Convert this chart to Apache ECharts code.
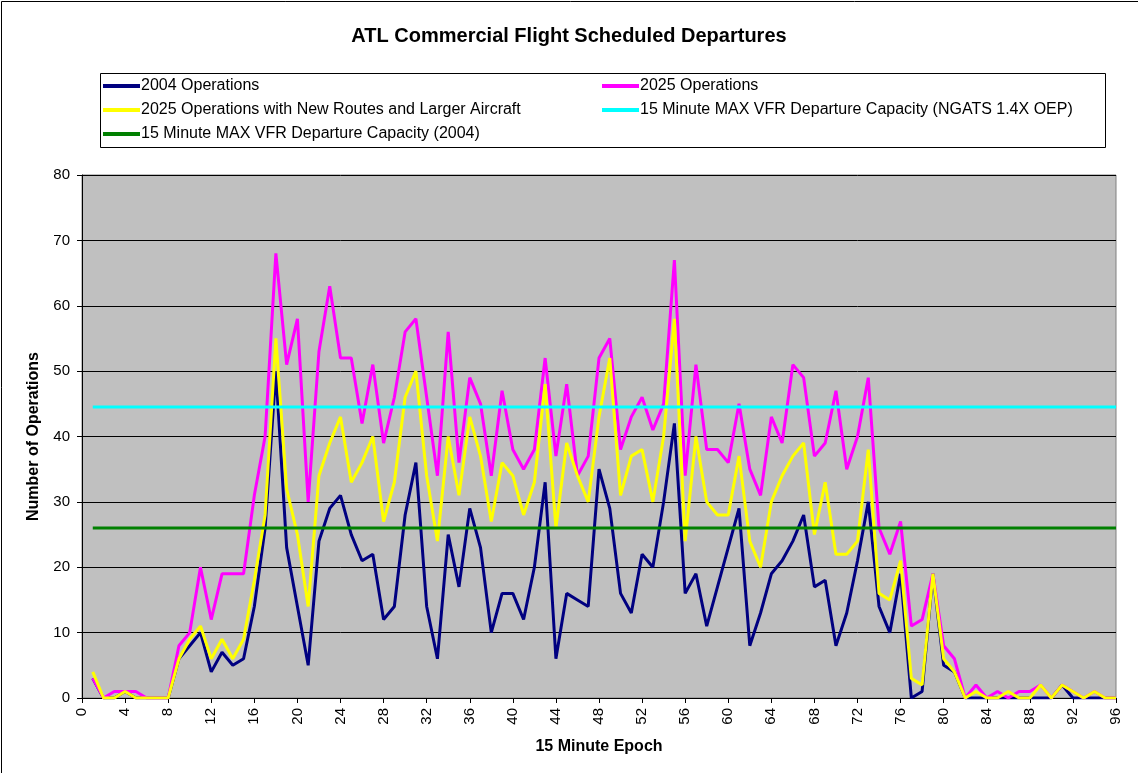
<!DOCTYPE html>
<html>
<head>
<meta charset="utf-8">
<title>ATL Commercial Flight Scheduled Departures</title>
<script src="https://cdn.jsdelivr.net/npm/echarts@6/dist/echarts.min.js"></script>
<style>
  html, body { margin: 0; padding: 0; background: #fff; }
  #chart { width: 1138px; height: 773px; }
</style>
</head>
<body>
<div id="chart"></div>
<script>
// 15 minute epochs 1..96
const epochs = Array.from({ length: 96 }, (_, i) => i + 1);

const ops2004 = [3, 0, 0, 1, 0, 0, 0, 0, 6, 8, 10, 4, 7, 5, 6, 14, 26, 50, 23, 14, 5, 24, 29, 31, 25, 21, 22, 12, 14, 28, 36, 14,
  6, 25, 17, 29, 23, 10, 16, 16, 12, 20, 33, 6, 16, 15, 14, 35, 29, 16, 13, 22, 20, 30, 42, 16, 19, 11, 17, 23, 29, 8,
  13, 19, 21, 24, 28, 17, 18, 8, 13, 21, 30, 14, 10, 19, 0, 1, 19, 5, 4, 0, 0, 0, 0, 0, 0, 0, 0, 0, 2, 0, 0, 0, 0, 0];

const ops2025 = [3, 0, 1, 1, 1, 0, 0, 0, 8, 10, 20, 12, 19, 19, 19, 31, 40, 68, 51, 58, 30, 53, 63, 52, 52, 42, 51, 39, 46, 56, 58, 46,
  34, 56, 36, 49, 45, 34, 47, 38, 35, 38, 52, 37, 48, 34, 37, 52, 55, 38, 43, 46, 41, 45, 67, 34, 51, 38, 38, 36, 45, 35,
  31, 43, 39, 51, 49, 37, 39, 47, 35, 40, 49, 26, 22, 27, 11, 12, 19, 8, 6, 0, 2, 0, 1, 0, 1, 1, 2, 0, 2, 1, 0, 1, 0, 0];

const ops2025New = [4, 0, 0, 1, 0, 0, 0, 0, 6, 9, 11, 6, 9, 6, 9, 18, 28, 55, 32, 25, 14, 34, 39, 43, 33, 36, 40, 27, 33, 46, 50, 34,
  24, 40, 31, 43, 37, 27, 36, 34, 28, 33, 48, 26, 39, 34, 30, 43, 52, 31, 37, 38, 30, 40, 58, 24, 40, 30, 28, 28, 37, 24,
  20, 30, 34, 37, 39, 25, 33, 22, 22, 24, 38, 16, 15, 21, 3, 2, 19, 6, 4, 0, 1, 0, 0, 1, 0, 0, 2, 0, 2, 1, 0, 1, 0, 0];

// capacity levels (departures per 15 min)
const capNgats = 44.5;
const cap2004 = 26;

const xTicks = { min: 0, max: 96, step: 4 };
const yTicks = { min: 0, max: 80, step: 10 };

const names = {
  ops2004: '2004 Operations',
  ops2025: '2025 Operations',
  ops2025New: '2025 Operations with New Routes and Larger Aircraft',
  capNgats: '15 Minute MAX VFR Departure Capacity (NGATS 1.4X OEP)',
  cap2004: '15 Minute MAX VFR Departure Capacity (2004)'
};

const pair = arr => epochs.map((e, i) => [e, arr[i]]);
const flat = v => epochs.map(e => [e, v]);

const FONT = '"Liberation Sans", Arial, sans-serif';

function lineSeries(name, data, color) {
  return {
    name: name,
    type: 'line',
    data: data,
    showSymbol: false,
    symbol: 'none',
    animation: false,
    lineStyle: { color: color, width: 3 },
    itemStyle: { color: color }
  };
}

const chart = echarts.init(document.getElementById('chart'));

const legendCommon = {
  orient: 'vertical',
  icon: 'rect',
  itemWidth: 37,
  itemHeight: 4,
  itemGap: 8,
  padding: 0,
  selectedMode: false,
  textStyle: { fontFamily: FONT, fontSize: 16, color: '#000', padding: [0, 0, 0, -4] }
};

chart.setOption({
  backgroundColor: '#fff',
  title: {
    text: 'ATL Commercial Flight Scheduled Departures',
    left: 'center',
    top: 21,
    textStyle: { fontFamily: FONT, fontSize: 20, fontWeight: 'bold', color: '#000' }
  },
  legend: [
    Object.assign({}, legendCommon, {
      left: 103, top: 78,
      data: [names.ops2004, names.ops2025New, names.cap2004]
    }),
    Object.assign({}, legendCommon, {
      left: 602, top: 78,
      data: [names.ops2025, names.capNgats]
    })
  ],
  graphic: [
    { type: 'rect', shape: { x: 100.5, y: 73.5, width: 1005, height: 74 },
      style: { fill: 'none', stroke: '#000', lineWidth: 1 }, silent: true },
    { type: 'rect', shape: { x: 1.5, y: 1.5, width: 1145, height: 780 },
      style: { fill: 'none', stroke: '#000', lineWidth: 1 }, silent: true }
  ],
  grid: {
    left: 82, right: 22, top: 175, bottom: 75,
    show: true,
    backgroundColor: '#C0C0C0',
    borderColor: '#808080',
    borderWidth: 1
  },
  xAxis: {
    type: 'value',
    min: xTicks.min, max: xTicks.max, interval: xTicks.step,
    name: '15 Minute Epoch',
    nameLocation: 'middle',
    nameGap: 41,
    nameTextStyle: { fontFamily: FONT, fontSize: 16, fontWeight: 'bold', color: '#000' },
    axisLine: { onZero: false, lineStyle: { color: '#000', width: 1 } },
    axisTick: { show: true, length: 5, lineStyle: { color: '#000' } },
    axisLabel: { rotate: 90, margin: 10, fontFamily: FONT, fontSize: 15, color: '#000' },
    splitLine: { show: false }
  },
  yAxis: {
    type: 'value',
    min: yTicks.min, max: yTicks.max, interval: yTicks.step,
    name: 'Number of Operations',
    nameLocation: 'middle',
    nameGap: 40,
    nameTextStyle: { fontFamily: FONT, fontSize: 16, fontWeight: 'bold', color: '#000' },
    axisLine: { show: true, lineStyle: { color: '#000', width: 1 } },
    axisTick: { show: true, length: 5, lineStyle: { color: '#000' } },
    axisLabel: { margin: 12, fontFamily: FONT, fontSize: 15, color: '#000' },
    splitLine: { show: true, lineStyle: { color: '#000', width: 1 } }
  },
  series: [
    lineSeries(names.ops2004, pair(ops2004), '#000080'),
    lineSeries(names.ops2025, pair(ops2025), '#FF00FF'),
    lineSeries(names.ops2025New, pair(ops2025New), '#FFFF00'),
    lineSeries(names.capNgats, flat(capNgats), '#00FFFF'),
    lineSeries(names.cap2004, flat(cap2004), '#008000')
  ]
});
</script>
</body>
</html>
